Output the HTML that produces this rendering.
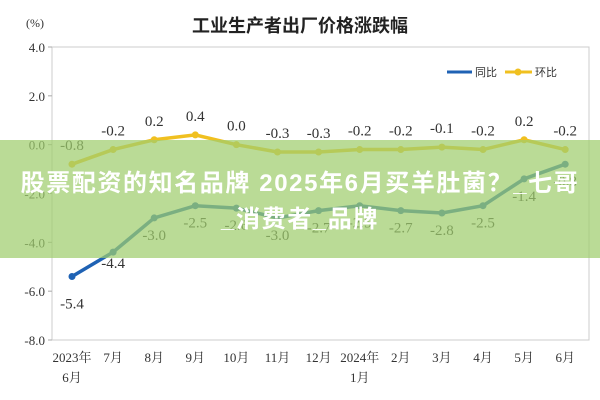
<!DOCTYPE html>
<html><head><meta charset="utf-8"><style>
body{margin:0;background:#fff;width:600px;height:400px;overflow:hidden;font-family:"Liberation Serif","Noto Serif CJK SC",serif}
svg{position:absolute;left:0;top:0}
#band{position:absolute;left:0;top:140px;width:600px;height:118px;background:rgba(160,205,110,0.72);color:#fff;font-family:"Liberation Sans","Noto Sans CJK SC",sans-serif;font-weight:bold;font-size:24px;letter-spacing:1.6px;text-align:center;line-height:36px;padding-top:26px;box-sizing:border-box;white-space:nowrap}
</style></head><body>
<svg width="600" height="400">
<g id="g"></g>
</svg>
<div id="band">股票配资的知名品牌 2025年6月买羊肚菌？_七哥<br>_消费者_品牌</div>
<script>
const categories=["2023年|6月","7月","8月","9月","10月","11月","12月","2024年|1月","2月","3月","4月","5月","6月"];
const yoy=[-5.4,-4.4,-3.0,-2.5,-2.6,-3.0,-2.7,-2.5,-2.7,-2.8,-2.5,-1.4,-0.8];
const mom=[-0.8,-0.2,0.2,0.4,0.0,-0.3,-0.3,-0.2,-0.2,-0.1,-0.2,0.2,-0.2];
const yTicks=[4,2,0,-2,-4,-6,-8];
const NS="http://www.w3.org/2000/svg";
const g=document.getElementById('g');
const X=i=>72+i*41.1;
const Y=v=>47+(4-v)*(293/12);
function el(t,a,txt){const e=document.createElementNS(NS,t);for(const k in a)e.setAttribute(k,a[k]);if(txt!=null)e.textContent=txt;g.appendChild(e);return e;}
let e;
e=el('text',{x:300,y:32,'text-anchor':'middle','font-size':18,'font-weight':'bold',fill:'#222','font-family':'"Liberation Sans","Noto Sans CJK SC",sans-serif'},'工业生产者出厂价格涨跌幅');

e=el('text',{x:26,y:27,'font-size':12,fill:'#333'},'(%)');

e=el('rect',{x:52,y:47,width:537,height:293,fill:'none',stroke:'#ccc'});

yTicks.forEach(v=>{
 e=el('text',{x:45,y:Y(v)+5,'text-anchor':'end','font-size':13,fill:'#333'},v.toFixed(1));
 
 el('line',{x1:48,x2:52,y1:Y(v),y2:Y(v),stroke:'#aaa'});
});
categories.forEach((c,i)=>{
 const p=c.split('|');
 p.forEach((s,j)=>{e=el('text',{x:X(i),y:362+j*20,'text-anchor':'middle','font-size':13,fill:'#333'},s);
 });
});
function series(data,color,name,labelPos){
 e=el('polyline',{points:data.map((v,i)=>X(i)+','+Y(v)).join(' '),fill:'none',stroke:color,'stroke-width':3.5});
 
 data.forEach((v,i)=>{
  e=el('circle',{cx:X(i),cy:Y(v),r:3.5,fill:color});
  
  const dy=labelPos(i);
  e=el('text',{x:X(i),y:Y(v)+dy,'text-anchor':'middle','font-size':15,fill:'#333'},v.toFixed(1));
  
 });
}
series(mom,'#f0c020','mom',i=>-14);
series(yoy,'#1f62b4','yoy',i=>i==0?32:(i==1?16:22));
e=el('line',{x1:447,x2:472,y1:72,y2:72,stroke:'#1f62b4','stroke-width':3});

e=el('text',{x:475,y:76,'font-size':11,fill:'#333','font-family':'"Liberation Sans","Noto Sans CJK SC",sans-serif'},'同比');

e=el('line',{x1:505,x2:532,y1:72,y2:72,stroke:'#f0c020','stroke-width':3});

el('circle',{cx:518,cy:72,r:3.5,fill:'#f0c020'});
e=el('text',{x:535,y:76,'font-size':11,fill:'#333','font-family':'"Liberation Sans","Noto Sans CJK SC",sans-serif'},'环比');

</script>
</body></html>
